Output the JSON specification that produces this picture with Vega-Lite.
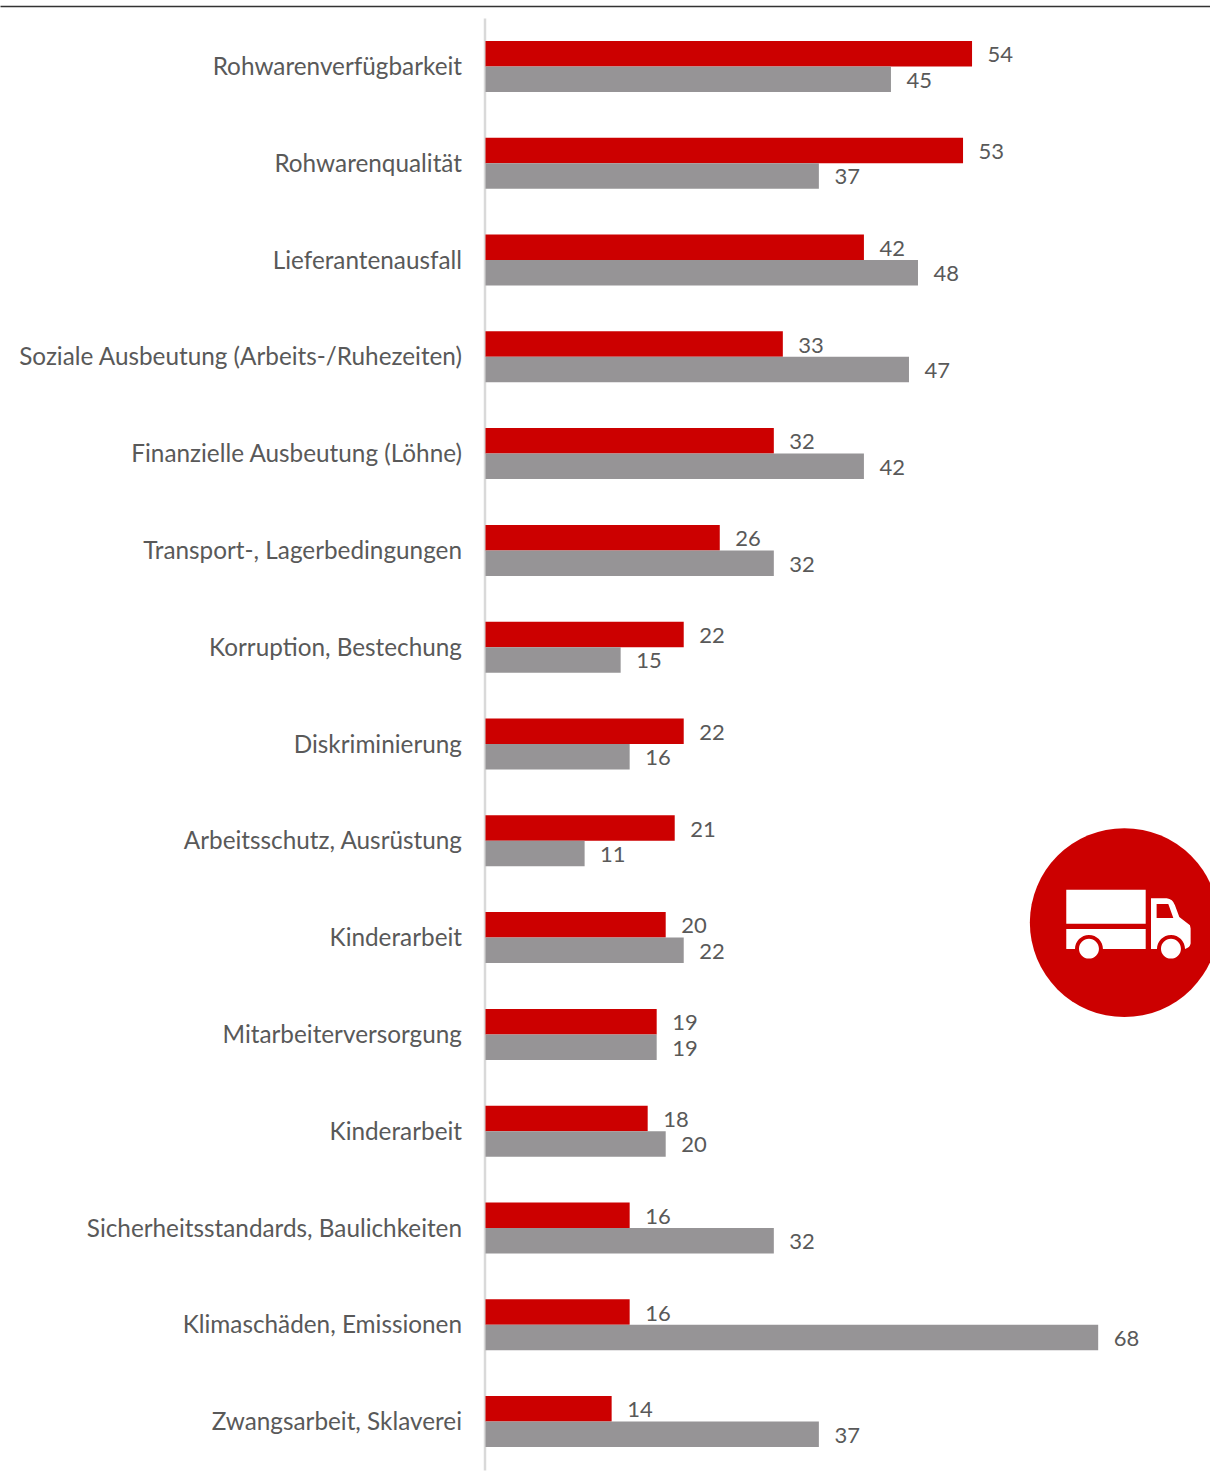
{"$schema":"https://vega.github.io/schema/vega-lite/v6.json","width":1210,"height":1452,"autosize":{"type":"none"},"padding":{"left":0,"right":0,"top":18,"bottom":6},"background":"white","config":{"view":{"stroke":null},"font":"Lato"},"datasets":{"rows":[{"Kategorie":"Rohwarenverfügbarkeit","Serie":"A","Wert":54},{"Kategorie":"Rohwarenverfügbarkeit","Serie":"B","Wert":45},{"Kategorie":"Rohwarenqualität","Serie":"A","Wert":53},{"Kategorie":"Rohwarenqualität","Serie":"B","Wert":37},{"Kategorie":"Lieferantenausfall","Serie":"A","Wert":42},{"Kategorie":"Lieferantenausfall","Serie":"B","Wert":48},{"Kategorie":"Soziale Ausbeutung (Arbeits-/Ruhezeiten)","Serie":"A","Wert":33},{"Kategorie":"Soziale Ausbeutung (Arbeits-/Ruhezeiten)","Serie":"B","Wert":47},{"Kategorie":"Finanzielle Ausbeutung (Löhne)","Serie":"A","Wert":32},{"Kategorie":"Finanzielle Ausbeutung (Löhne)","Serie":"B","Wert":42},{"Kategorie":"Transport-, Lagerbedingungen","Serie":"A","Wert":26},{"Kategorie":"Transport-, Lagerbedingungen","Serie":"B","Wert":32},{"Kategorie":"Korruption, Bestechung","Serie":"A","Wert":22},{"Kategorie":"Korruption, Bestechung","Serie":"B","Wert":15},{"Kategorie":"Diskriminierung","Serie":"A","Wert":22},{"Kategorie":"Diskriminierung","Serie":"B","Wert":16},{"Kategorie":"Arbeitsschutz, Ausrüstung","Serie":"A","Wert":21},{"Kategorie":"Arbeitsschutz, Ausrüstung","Serie":"B","Wert":11},{"Kategorie":"Kinderarbeit","Serie":"A","Wert":20},{"Kategorie":"Kinderarbeit","Serie":"B","Wert":22},{"Kategorie":"Mitarbeiterversorgung","Serie":"A","Wert":19},{"Kategorie":"Mitarbeiterversorgung","Serie":"B","Wert":19},{"Kategorie":"Kinderarbeit ","Serie":"A","Wert":18},{"Kategorie":"Kinderarbeit ","Serie":"B","Wert":20},{"Kategorie":"Sicherheitsstandards, Baulichkeiten","Serie":"A","Wert":16},{"Kategorie":"Sicherheitsstandards, Baulichkeiten","Serie":"B","Wert":32},{"Kategorie":"Klimaschäden, Emissionen","Serie":"A","Wert":16},{"Kategorie":"Klimaschäden, Emissionen","Serie":"B","Wert":68},{"Kategorie":"Zwangsarbeit, Sklaverei","Serie":"A","Wert":14},{"Kategorie":"Zwangsarbeit, Sklaverei","Serie":"B","Wert":37}],"icon":[{"Kategorie":"Kinderarbeit","Wert":70.9}]},"encoding":{"y":{"field":"Kategorie","type":"nominal","sort":null,"scale":{"paddingInner":0.473,"paddingOuter":0.2365},"axis":{"orient":"left","offset":-484.5,"title":null,"ticks":false,"labelPadding":23,"labelOffset":1.5,"labelFontSize":24.3,"labelColor":"#595959","labelFont":"Lato","labelLimit":600,"domainColor":"#d9d9d9","domainWidth":2.5,"zindex":0}},"x":{"field":"Wert","type":"quantitative","scale":{"domain":[-53.885,80.41],"nice":false,"zero":false},"axis":{"orient":"top","offset":12,"title":null,"ticks":false,"labels":false,"grid":false,"domainColor":"#333333","domainWidth":1.5}}},"layer":[{"data":{"name":"rows"},"mark":{"type":"bar"},"encoding":{"x":{"datum":0,"type":"quantitative"},"x2":{"field":"Wert"},"yOffset":{"field":"Serie","type":"nominal","scale":{"paddingInner":0,"paddingOuter":0}},"color":{"field":"Serie","type":"nominal","scale":{"domain":["A","B"],"range":["#cc0000","#969496"]},"legend":null}}},{"data":{"name":"rows"},"mark":{"type":"text","align":"left","baseline":"middle","dx":15.5,"dy":1.5,"fontSize":22,"color":"#595959","font":"Lato"},"encoding":{"yOffset":{"field":"Serie","type":"nominal"},"text":{"field":"Wert","type":"quantitative"}}},{"data":{"name":"icon"},"mark":{"type":"point","shape":"circle","filled":true,"size":35700,"color":"#cc0000","opacity":1,"yOffset":-15,"clip":false}},{"data":{"name":"icon"},"mark":{"type":"point","filled":true,"size":36100,"color":"#ffffff","opacity":1,"yOffset":-15,"clip":false,"shape":"M-0.611 -0.347H0.225V0.011H-0.611Z M-0.611 0.067H0.225V0.277H-0.225A0.147 0.147 0 0 0 -0.519 0.277H-0.611Z M-0.477 0.274a0.105 0.105 0 1 0 0.21 0a0.105 0.105 0 1 0 -0.21 0Z M0.281 -0.256H0.446Q0.51 -0.25 0.533 -0.182L0.579 -0.06L0.691 0.028L0.698 0.063V0.221Q0.69 0.265 0.639 0.277A0.147 0.147 0 0 0 0.344 0.277H0.281Z M0.340 -0.196V-0.049H0.516L0.463 -0.196Z M0.386 0.274a0.105 0.105 0 1 0 0.21 0a0.105 0.105 0 1 0 -0.21 0Z"}}]}
